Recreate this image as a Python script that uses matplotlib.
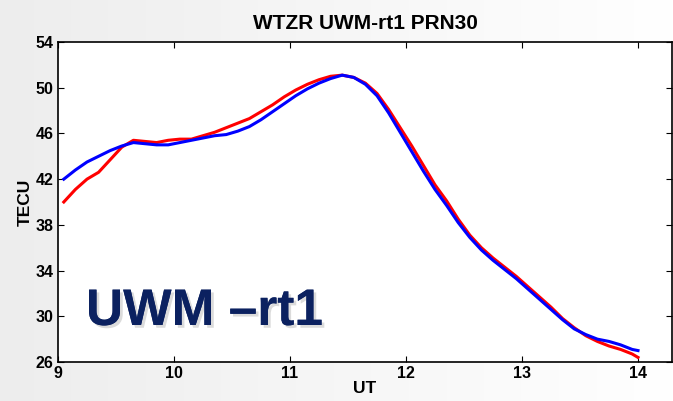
import matplotlib
matplotlib.use("Agg")
import matplotlib.pyplot as plt
import matplotlib.patheffects as pe
import numpy as np

ut = [9.05, 9.15, 9.25, 9.35, 9.45, 9.55, 9.65, 9.75, 9.85, 9.95,
      10.05, 10.15, 10.25, 10.35, 10.45, 10.55, 10.65, 10.75, 10.85, 10.95,
      11.05, 11.15, 11.25, 11.35, 11.45, 11.55, 11.65, 11.75, 11.85, 11.95,
      12.05, 12.15, 12.25, 12.35, 12.45, 12.55, 12.65, 12.75, 12.85, 12.95,
      13.05, 13.15, 13.25, 13.35, 13.45, 13.55, 13.65, 13.75, 13.85, 13.95, 14.0]

tec_red = [40.0, 41.1, 42.0, 42.6, 43.7, 44.8, 45.4, 45.3, 45.2, 45.4,
           45.5, 45.5, 45.8, 46.1, 46.5, 46.9, 47.3, 47.9, 48.5, 49.2,
           49.8, 50.3, 50.7, 51.0, 51.1, 50.9, 50.4, 49.5, 48.1, 46.5,
           44.9, 43.2, 41.5, 40.1, 38.5, 37.1, 36.0, 35.1, 34.3, 33.5,
           32.6, 31.7, 30.8, 29.8, 29.0, 28.3, 27.8, 27.4, 27.1, 26.7, 26.4]

tec_blue = [42.0, 42.8, 43.5, 44.0, 44.5, 44.9, 45.2, 45.1, 45.0, 45.0,
            45.2, 45.4, 45.6, 45.8, 45.9, 46.2, 46.6, 47.2, 47.9, 48.6,
            49.3, 49.9, 50.4, 50.8, 51.1, 50.9, 50.3, 49.3, 47.8, 46.1,
            44.4, 42.7, 41.1, 39.7, 38.2, 36.9, 35.8, 34.9, 34.1, 33.3,
            32.4, 31.5, 30.6, 29.7, 28.9, 28.4, 28.0, 27.8, 27.5, 27.1, 27.0]

xticks = [9, 10, 11, 12, 13, 14]
yticks = [26, 30, 34, 38, 42, 46, 50, 54]

plt.rcParams['font.family'] = ['Liberation Sans', 'DejaVu Sans']

fig = plt.figure(figsize=(6.73, 4.01), dpi=100)
fig.patch.set_facecolor('#f2f2f2')
bg = fig.add_axes([0, 0, 1, 1], zorder=-10)
grad = np.linspace(0.93, 1.0, 256)[None, :]
bg.imshow(np.dstack([grad, grad, grad]), aspect='auto', extent=[0, 1, 0, 1])
bg.axis('off')

ax = fig.add_axes([58/673, (401-362)/401, (672-58)/673, (362-42)/401])
ax.set_facecolor('white')
ax.plot(ut, tec_red, color='#ff0000', lw=2.2)
ax.plot(ut, tec_blue, color='#0000ff', lw=2.2)
ax.set_xlim(9, 9 + (672-58)/116)
ax.set_ylim(26, 54)
ax.set_xticks(xticks)
ax.set_yticks(yticks)
ax.tick_params(direction='in', top=True, right=True, length=4, width=0.8,
               labelsize=11.5, pad=3)
for lbl in ax.get_xticklabels() + ax.get_yticklabels():
    lbl.set_fontweight('bold')
for s in ax.spines.values():
    s.set_linewidth(1.2)
ax.set_title('WTZR UWM-rt1 PRN30', fontsize=15, fontweight='bold', pad=9)
ax.set_xlabel('UT', fontsize=12.5, fontweight='bold', labelpad=0)
ax.set_ylabel('TECU', fontsize=12.5, fontweight='bold', labelpad=2)

t = ax.text(86, 401 - 325, 'UWM \u2013rt1', transform=None, fontsize=37, fontweight='bold',
            color='#0b2160', ha='left', va='baseline',
            path_effects=[pe.withSimplePatchShadow(offset=(2, -2), shadow_rgbFace='#999999', alpha=0.35),
                          pe.Normal()])

fig.savefig('out.png', dpi=100, facecolor=fig.get_facecolor())
